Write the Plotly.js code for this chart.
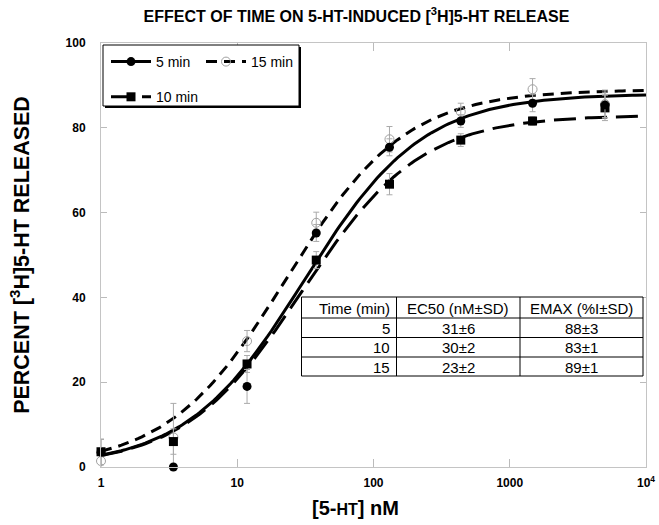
<!DOCTYPE html>
<html>
<head>
<meta charset="utf-8">
<script src="https://cdn.plot.ly/plotly-3.0.1.min.js"></script>
<style>
  html, body { margin: 0; padding: 0; background: #fff; }
  #chart { width: 659px; height: 525px; }
</style>
</head>
<body>
<div id="chart"></div>
<script>
// ---- data ----
const conc = [1, 3.4, 11.8, 38, 131, 437, 1470, 5000];          // [5-HT] nM
const y5   = [3.5, 0, 19, 55.2, 75.4, 81.6, 85.8, 85.4];         // 5 min
const e5   = [3, 0, 4, 2, 2, 1.5, 2, 3];
const y10  = [3.6, 6, 24.3, 48.8, 66.7, 77.1, 81.6, 84.7];       // 10 min
const e10  = [3, 3, 2, 2, 2.5, 1.5, 1, 3];
const y15  = [1.4, 7, 29.7, 57.6, 77.3, 83.8, 89.1, 85.6];       // 15 min
const e15  = [2, 8, 2.5, 2.5, 3, 2, 2.5, 3.3];

// fit parameters (table)
const times  = [5, 10, 15];
const ec50   = [31, 30, 23];
const ec50sd = [6, 2, 2];
const emax   = [88, 83, 89];
const emaxsd = [3, 1, 1];
const tableHeader = ['Time (min)', 'EC50 (nM±SD)', 'EMAX (%I±SD)'];

const xTickVals = [1, 10, 100, 1000, 10000];
const xTickText = ['1', '10', '100', '1000', '10<sup>4</sup>'];

// ---- fitted curves from table parameters (hyperbolic fit) ----
const fitX = [];
for (let i = 0; i <= 160; i++) fitX.push(Math.pow(10, 4 * i / 160));
const fitY = k => fitX.map(x => emax[k] * x / (x + ec50[k]));

const errCol = '#aaaaaa';
const dashes = ['solid', '22px,9px', '11px,7px'];

const traces = [
  // fit lines
  { x: fitX, y: fitY(0), mode: 'lines', line: { color: '#000', width: 3, dash: dashes[0] }, showlegend: false, hoverinfo: 'skip' },
  { x: fitX, y: fitY(1), mode: 'lines', line: { color: '#000', width: 3, dash: dashes[1] }, showlegend: false, hoverinfo: 'skip' },
  { x: fitX, y: fitY(2), mode: 'lines', line: { color: '#000', width: 3, dash: dashes[2] }, showlegend: false, hoverinfo: 'skip' },
  // data points
  { x: conc, y: y15, mode: 'markers', cliponaxis: false, showlegend: false,
    marker: { symbol: 'circle-open', size: 9, color: '#a0a0a0', line: { width: 1, color: '#a0a0a0' } },
    error_y: { type: 'data', array: e15, color: errCol, thickness: 1, width: 3 } },
  { x: conc, y: y10, mode: 'markers', cliponaxis: false, showlegend: false,
    marker: { symbol: 'square', size: 9, color: '#000' },
    error_y: { type: 'data', array: e10, color: errCol, thickness: 1, width: 3 } },
  { x: conc, y: y5, mode: 'markers', cliponaxis: false, showlegend: false,
    marker: { symbol: 'circle', size: 9, color: '#000' },
    error_y: { type: 'data', array: e5, color: errCol, thickness: 1, width: 3 } },
  // legend entries
  { x: [null], y: [null], name: '5 min', mode: 'lines+markers', legend: 'legend', legendgroup: 'a',
    line: { color: '#000', width: 3, dash: dashes[0] }, marker: { symbol: 'circle', size: 9, color: '#000' } },
  { x: [null], y: [null], name: '10 min', mode: 'lines+markers', legend: 'legend', legendgroup: 'b',
    line: { color: '#000', width: 3, dash: dashes[1] }, marker: { symbol: 'square', size: 9, color: '#000' } },
  { x: [null], y: [null], name: '15 min', mode: 'lines+markers', legend: 'legend2', legendgroup: 'c',
    line: { color: '#000', width: 3, dash: dashes[2] }, marker: { symbol: 'circle-open', size: 9, color: '#a0a0a0', line: { width: 1, color: '#a0a0a0' } } }
];

// pixel helpers (plot area: x 101..646, y 43..467)
const L = 101, R = 646, T = 43, B = 467;
const px = v => (v - L) / (R - L);
const py = v => (B - v) / (B - T);

const font = 'Liberation Sans, Arial, Helvetica, sans-serif';

// ---- inset table (built from the table arrays) ----
const tabCols = [301.5, 396.5, 520, 643];          // column edges (px)
const tabRows = [297, 318, 337.5, 357, 376];       // row edges (px)
const tabShapes = [];
const tabAnn = [];
tabShapes.push({ type: 'rect', xref: 'paper', yref: 'paper', layer: 'above',
  x0: px(tabCols[0]), x1: px(tabCols[3]), y0: py(tabRows[4]), y1: py(tabRows[0]),
  fillcolor: '#fff', line: { color: '#000', width: 1 } });
for (let c = 1; c < 3; c++) tabShapes.push({ type: 'line', xref: 'paper', yref: 'paper', layer: 'above',
  x0: px(tabCols[c]), x1: px(tabCols[c]), y0: py(tabRows[4]), y1: py(tabRows[0]), line: { color: '#000', width: 1 } });
for (let r = 1; r < 4; r++) tabShapes.push({ type: 'line', xref: 'paper', yref: 'paper', layer: 'above',
  x0: px(tabCols[0]), x1: px(tabCols[3]), y0: py(tabRows[r]), y1: py(tabRows[r]), line: { color: '#000', width: 1 } });
const tabBody = [tableHeader].concat(times.map((t, i) => [String(t), ec50[i] + '±' + ec50sd[i], emax[i] + '±' + emaxsd[i]]));
tabBody.forEach((row, r) => {
  const yc = (tabRows[r] + tabRows[r + 1]) / 2;
  row.forEach((txt, c) => {
    const right = c === 0;
    tabAnn.push({ text: txt, xref: 'paper', yref: 'paper', showarrow: false,
      x: right ? px(tabCols[1] - 5) : px((tabCols[c] + tabCols[c + 1]) / 2),
      xanchor: right ? 'right' : 'center', y: py(yc + 0.5), yanchor: 'middle',
      font: { family: font, size: 15, color: '#000' } });
  });
});

const layout = {
  width: 659, height: 525,
  margin: { l: L, r: 659 - R, t: T, b: 525 - B },
  paper_bgcolor: '#fff', plot_bgcolor: '#fff',
  font: { family: font, color: '#000' },
  title: { text: 'EFFECT OF TIME ON 5-HT-INDUCED [<sup>3</sup>H]5-HT RELEASE',
    x: 0.541, xanchor: 'center', y: 1 - 16 / 525, yanchor: 'middle',
    font: { family: font, size: 16, weight: 'bold', color: '#000' } },
  xaxis: {
    type: 'log', range: [0, 4], tickvals: xTickVals, ticktext: xTickText,
    ticks: 'inside', ticklen: 8, tickcolor: '#bbbbbb', tickwidth: 1,
    showline: true, linecolor: '#c4c4c4', linewidth: 1, mirror: 'ticks',
    showgrid: false, zeroline: false,
    tickfont: { family: font, size: 12, weight: 'bold' }, ticklabelstandoff: 5
  },
  yaxis: {
    range: [0, 100], tickvals: [0, 20, 40, 60, 80, 100],
    ticks: 'inside', ticklen: 6, tickcolor: '#bbbbbb', tickwidth: 1,
    showline: true, linecolor: '#c4c4c4', linewidth: 1, mirror: 'ticks',
    showgrid: false, zeroline: false,
    tickfont: { family: font, size: 12, weight: 'bold' }, ticklabelstandoff: 12,
    title: { text: 'PERCENT [<sup>3</sup>H]5-HT RELEASED', standoff: 30,
      font: { family: font, size: 21.5, weight: 'bold' } }
  },
  annotations: [
    { text: '[5-<span style="font-size:16px">HT</span>] nM', xref: 'paper', yref: 'paper',
      x: px(355), y: py(508), xanchor: 'center', yanchor: 'middle', showarrow: false,
      font: { family: font, size: 20, weight: 'bold', color: '#000' } }
  ].concat(tabAnn),
  legend: { x: px(106), y: py(46), xanchor: 'left', yanchor: 'top', bgcolor: 'rgba(0,0,0,0)',
    borderwidth: 0, traceorder: 'grouped', tracegroupgap: 14, itemwidth: 40,
    font: { family: font, size: 14, color: '#000' } },
  legend2: { x: px(201), y: py(46), xanchor: 'left', yanchor: 'top', bgcolor: 'rgba(0,0,0,0)',
    borderwidth: 0, itemwidth: 40,
    font: { family: font, size: 14, color: '#000' } },
  shapes: [
    { type: 'rect', xref: 'paper', yref: 'paper', layer: 'above',
      x0: px(105), x1: px(301), y0: py(108), y1: py(47), fillcolor: '#000', line: { width: 0 } },
    { type: 'rect', xref: 'paper', yref: 'paper', layer: 'above',
      x0: px(103), x1: px(299), y0: py(106), y1: py(45), fillcolor: '#fff', line: { color: '#000', width: 1 } }
  ].concat(tabShapes),
  showlegend: true
};

Plotly.newPlot('chart', traces, layout, { displayModeBar: false, staticPlot: true });
</script>
</body>
</html>
